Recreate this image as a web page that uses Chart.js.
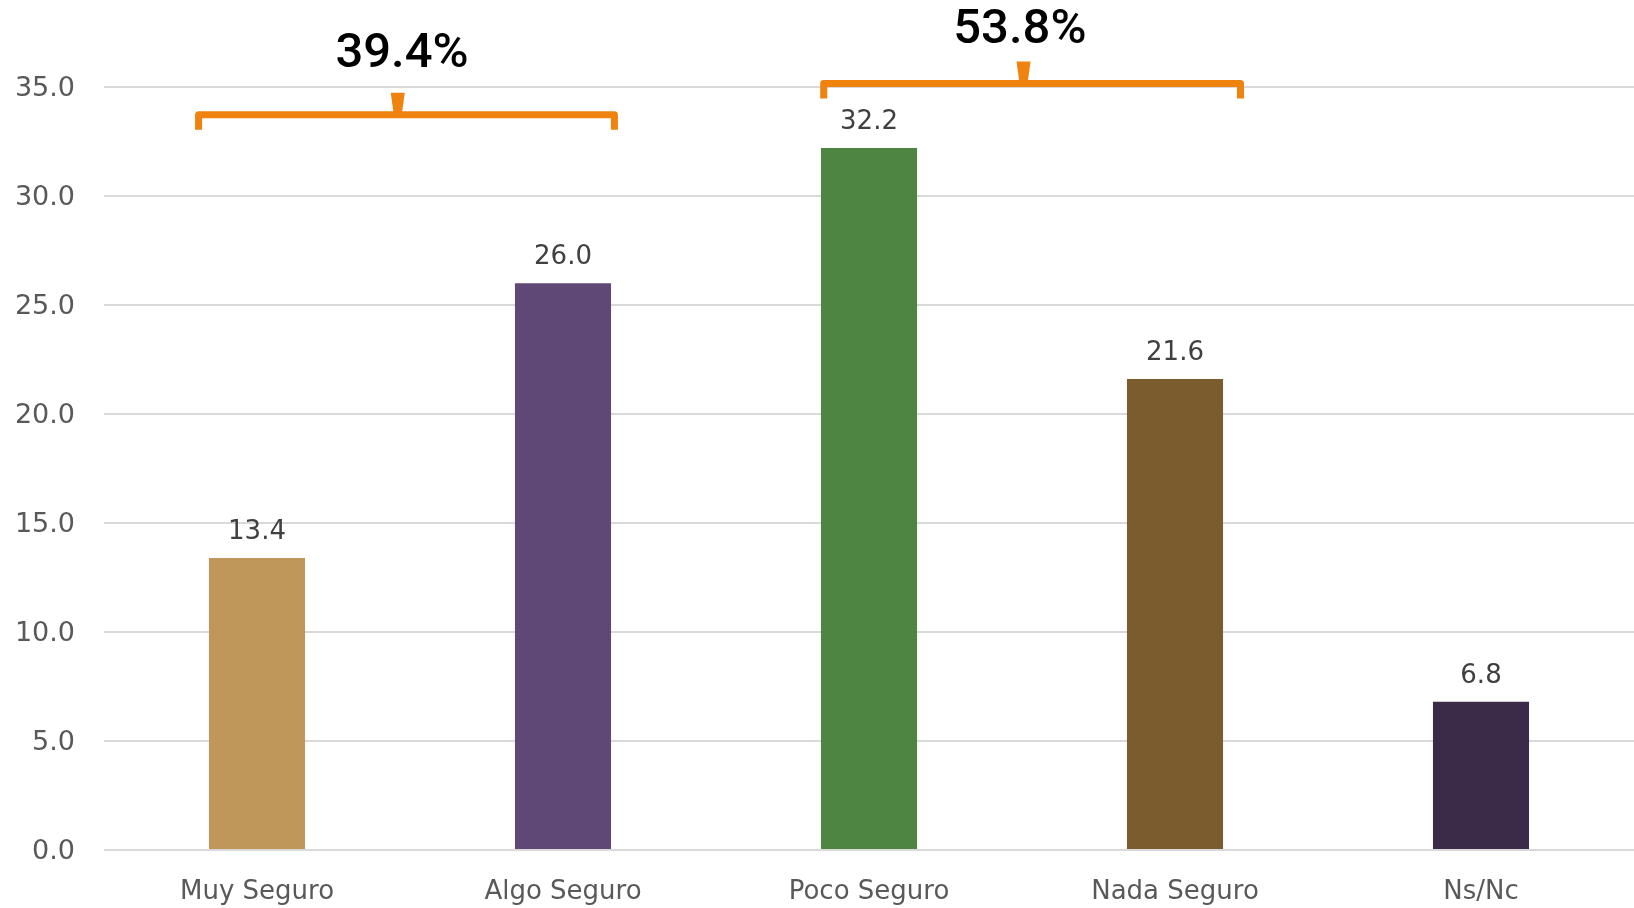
<!DOCTYPE html>
<html>
<head>
<meta charset="utf-8">
<script src="https://cdn.jsdelivr.net/npm/chart.js@4/dist/chart.umd.min.js"></script>
<style>
html,body{margin:0;padding:0;background:#fff;}
#wrap{width:1634px;height:908px;position:relative;}
</style>
</head>
<body>
<div id="wrap"><canvas id="c" width="1634" height="908"></canvas></div>
<script>
const categories = ['Muy Seguro', 'Algo Seguro', 'Poco Seguro', 'Nada Seguro', 'Ns/Nc'];
const values = [13.4, 26.0, 32.2, 21.6, 6.8];
const barColors = ['#C0975A', '#5F4876', '#4E8542', '#7A5C2E', '#3B2B48'];
const yTicks = [0, 5, 10, 15, 20, 25, 30, 35];
const groupLabels = ['39.4%', '53.8%'];

const FONT = '"DejaVu Sans", sans-serif';
const BIG_FONT = 'Roboto, "Liberation Sans", sans-serif';

const bracketPlugin = {
  id: 'brackets',
  afterDatasetsDraw(chart, args, opts) {
    const ctx = chart.ctx;
    const xs = chart.scales.x, ys = chart.scales.y;
    // data labels
    ctx.save();
    ctx.font = '26px ' + FONT;
    ctx.fillStyle = '#404040';
    ctx.textAlign = 'center';
    ctx.textBaseline = 'alphabetic';
    values.forEach((v, i) => {
      ctx.fillText(v.toFixed(1), xs.getPixelForValue(i), ys.getPixelForValue(v) - 19);
    });
    ctx.restore();
    // brackets
    opts.groups.forEach((g, k) => {
      const x1 = xs.getPixelForValue(g.from);
      const x2 = xs.getPixelForValue(g.to);
      const xc = xs.getPixelForValue(g.tick);
      const y = ys.getPixelForValue(g.level);
      ctx.save();
      ctx.strokeStyle = opts.color;
      ctx.fillStyle = opts.color;
      ctx.lineWidth = 7;
      ctx.lineJoin = 'round';
      ctx.lineCap = 'butt';
      ctx.beginPath();
      ctx.moveTo(x1, y + 15);
      ctx.lineTo(x1, y);
      ctx.lineTo(x2, y);
      ctx.lineTo(x2, y + 15);
      ctx.stroke();
      ctx.beginPath();
      ctx.moveTo(xc - 7, y - 22);
      ctx.lineTo(xc + 7, y - 22);
      ctx.lineTo(xc + 4, y);
      ctx.lineTo(xc - 4, y);
      ctx.closePath();
      ctx.fill();
      ctx.font = '500 49px ' + BIG_FONT;
      ctx.fillStyle = '#000000';
      ctx.textAlign = 'center';
      ctx.textBaseline = 'alphabetic';
      ctx.fillText(groupLabels[k], xs.getPixelForValue(g.textX), ys.getPixelForValue(g.textY));
      ctx.restore();
    });
  }
};

new Chart(document.getElementById('c'), {
  type: 'bar',
  data: {
    labels: categories,
    datasets: [{
      data: values,
      backgroundColor: barColors,
      borderWidth: 0,
      categoryPercentage: 1.0,
      barPercentage: 0.314
    }]
  },
  options: {
    responsive: false,
    animation: false,
    devicePixelRatio: 1,
    layout: { padding: { top: 87, right: 0, bottom: 0, left: 0 } },
    plugins: {
      legend: { display: false },
      tooltip: { enabled: false },
      brackets: {
        color: '#F0820E',
        groups: [
          { from: -0.191, to: 1.168, tick: 0.46, level: 33.73, textX: 0.474, textY: 35.92 },
          { from: 1.852, to: 3.214, tick: 2.505, level: 35.16, textX: 2.493, textY: 37.02 }
        ]
      }
    },
    scales: {
      x: {
        grid: { display: false },
        border: { display: false },
        ticks: { color: '#595959', font: { family: FONT, size: 26 }, padding: 19 },
        afterFit(s) { s.height = 58; }
      },
      y: {
        min: 0, max: 35,
        afterBuildTicks(s) { s.ticks = yTicks.map(v => ({ value: v })); },
        grid: { color: '#D9D9D9', lineWidth: 2, drawTicks: false },
        border: { display: false },
        ticks: {
          color: '#595959',
          font: { family: FONT, size: 27 },
          padding: 29,
          labelOffset: 2,
          callback: v => Number(v).toFixed(1)
        },
        afterFit(s) { s.width = 104; }
      }
    }
  },
  plugins: [bracketPlugin]
});
</script>
</body>
</html>
